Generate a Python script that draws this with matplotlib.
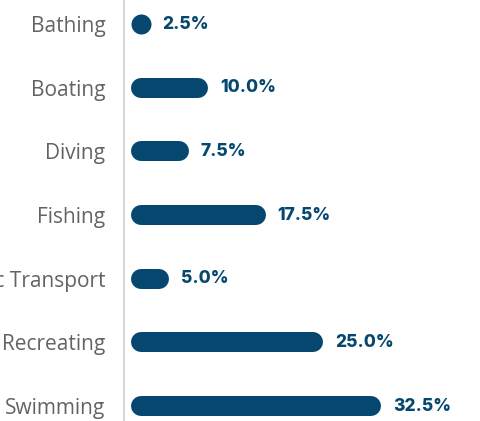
import numpy as np
import matplotlib
matplotlib.use("Agg")
import matplotlib.pyplot as plt

categories = ["Bathing", "Boating", "Diving", "Fishing", "Public Transport", "Recreating", "Swimming"]
values = [2.5, 10.0, 7.5, 17.5, 5.0, 25.0, 32.5]

bar_color = "#05476f"
dpi = 100
fig = plt.figure(figsize=(4.8, 4.21), dpi=dpi)
ax = fig.add_axes([124 / 480, 0, 356 / 480, 1])

px_per_unit = 7.69
ax.set_xlim(-7 / px_per_unit, 349 / px_per_unit)
ax.set_ylim(6.235, -0.377)

bar_px = 20
lw = bar_px * 72 / dpi
r = bar_px / 2 / px_per_unit
y = np.arange(len(categories))
for yi, v in zip(y, values):
    if v <= 2 * r:
        # too short for a bar: just a dot
        ax.plot([v / 2], [yi], marker="o", ms=lw, color=bar_color, mew=0)
    else:
        ax.plot([r, v - r], [yi, yi], color=bar_color, lw=lw, solid_capstyle="round")
    ax.text(v + 12 / px_per_unit, yi, f"{v:.1f}%", va="center", ha="left",
            fontsize=12.5, fontweight="heavy", color=bar_color, family="Inter")

ax.set_yticks(y)
ax.set_yticklabels(categories, fontsize=15, color="#636363", family="Open Sans")
ax.tick_params(axis="y", length=0, pad=13.5)
ax.set_xticks([])
for s in ["top", "right", "bottom"]:
    ax.spines[s].set_visible(False)
ax.spines["left"].set_color("#d9d9d9")
ax.spines["left"].set_linewidth(1.5)

fig.savefig("out.png", dpi=dpi)
